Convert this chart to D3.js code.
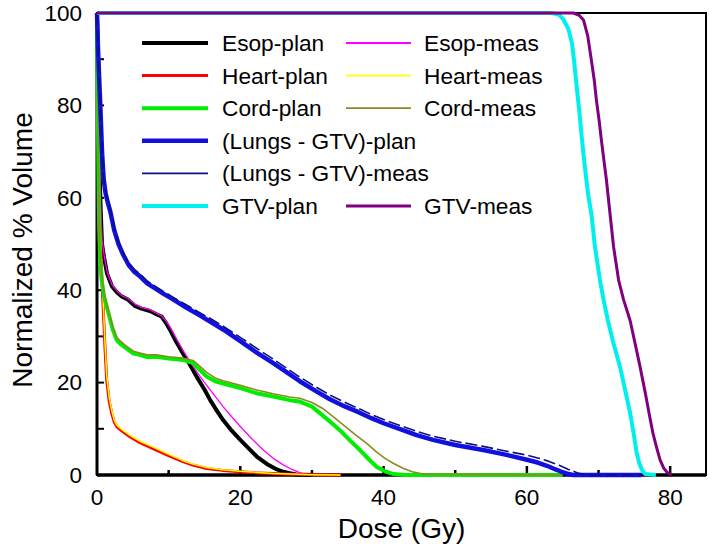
<!DOCTYPE html>
<html>
<head>
<meta charset="utf-8">
<script src="https://cdn.jsdelivr.net/npm/d3@7/dist/d3.min.js"></script>
<style>
  html, body { margin: 0; padding: 0; background: #fff; }
  svg { display: block; font-family: "Liberation Sans", Arial, sans-serif; }
</style>
</head>
<body>
<svg id="chart" width="709" height="552"></svg>
<script>
// ---------------- DATA ----------------
const xTickValues = [0, 20, 40, 60, 80];
const xMinorTicks = [10, 30, 50, 70];
const yTickValues = [0, 20, 40, 60, 80, 100];
const yMinorTicks = [10, 30, 50, 70, 90];

const esopPlanDose = [0, 0.15, 0.3, 0.5, 0.7, 1.0, 1.4, 2.1, 2.8, 3.5, 4.3, 5.3, 6.2, 7.4, 8.3, 9.0, 9.6, 10.2, 11.0, 12.0, 13.0, 13.9, 15.0, 15.8, 16.7, 17.6, 18.8, 20.0, 21.2, 22.3, 23.7, 25.1, 26.0, 26.9, 27.8, 30];
const esopPlanVol  = [100, 85, 70, 58, 50, 47, 43.6, 40.8, 39.5, 38.6, 38.0, 36.6, 36.0, 35.5, 34.8, 34.3, 33.0, 31.4, 29.0, 26.3, 23.8, 21.3, 18.5, 16.2, 14.0, 11.9, 9.6, 7.6, 5.7, 4.0, 2.4, 1.2, 0.7, 0.4, 0.1, 0];

const esopMeasDose = [0, 0.15, 0.3, 0.5, 0.7, 1.0, 1.4, 2.1, 2.8, 3.5, 4.3, 5.3, 6.2, 7.4, 8.3, 9.0, 9.6, 10.2, 11.0, 12.0, 13.0, 14.4, 15.5, 16.5, 17.6, 18.8, 20.0, 21.5, 23.2, 24.6, 26.0, 27.2, 28.3, 29.2, 31];
const esopMeasVol  = [100, 86, 71, 59, 51, 47.5, 44, 41.2, 39.8, 38.8, 38.2, 37.0, 36.3, 35.8, 35.0, 34.5, 33.4, 32.0, 29.7, 27.0, 24.5, 21.3, 19.0, 17.0, 14.8, 12.6, 10.5, 8.0, 5.4, 3.6, 2.2, 1.2, 0.5, 0.1, 0];

const heartPlanDose = [0, 0.1, 0.2, 0.35, 0.55, 0.7, 0.9, 1.1, 1.35, 1.7, 2.05, 2.4, 2.75, 3.5, 4.6, 6.0, 8.3, 10.0, 12.0, 13.5, 15.3, 17.5, 20.0, 22.5, 24.6, 27.0, 30.0, 34.0];
const heartPlanVol  = [100, 88, 72, 58, 48, 42, 35, 28, 20.6, 16, 13.4, 11.5, 10.5, 9.5, 8.3, 7.0, 5.4, 4.2, 2.9, 2.1, 1.4, 1.0, 0.7, 0.45, 0.3, 0.15, 0.05, 0];

const heartMeasDose = [0, 0.1, 0.2, 0.35, 0.55, 0.7, 0.9, 1.1, 1.35, 1.7, 2.05, 2.4, 2.75, 3.5, 4.6, 6.0, 8.3, 10.0, 12.0, 13.5, 15.3, 17.5, 20.0, 22.5, 24.6, 27.0, 30.0, 34.0];
const heartMeasVol  = [100, 89, 73, 59, 49, 43, 36, 29, 21.5, 16.8, 14.0, 11.9, 10.8, 9.8, 8.6, 7.3, 5.7, 4.5, 3.1, 2.3, 1.6, 1.15, 0.8, 0.55, 0.35, 0.2, 0.08, 0];

const cordPlanDose = [0, 0.1, 0.2, 0.3, 0.45, 0.65, 1.0, 1.6, 2.2, 2.75, 3.4, 4.0, 5.1, 6.0, 7.0, 8.3, 10.0, 12.0, 13.4, 14.3, 15.3, 16.5, 17.6, 20.0, 22.3, 24.6, 26.9, 28.3, 30.0, 31.1, 32.5, 33.9, 35.3, 36.7, 38.0, 39.0, 40.2, 41.4, 43, 65];
const cordPlanVol  = [100, 82, 66, 54, 46, 42.2, 38.5, 35, 31.5, 29.2, 28.2, 27.5, 26.3, 26.0, 25.5, 25.6, 25.2, 24.9, 24.2, 22.8, 21.3, 20.3, 19.8, 18.8, 17.7, 17.0, 16.2, 15.9, 14.8, 13.4, 11.6, 9.7, 7.5, 5.4, 3.3, 1.8, 0.8, 0.2, 0, 0];

const cordMeasDose = [0, 0.1, 0.2, 0.3, 0.45, 0.65, 1.0, 1.6, 2.2, 2.75, 3.4, 4.0, 5.1, 6.0, 7.0, 8.3, 10.0, 12.0, 13.4, 14.3, 15.3, 16.5, 17.6, 20.0, 22.3, 24.6, 26.9, 28.3, 30.0, 31.5, 33.0, 34.5, 36.0, 37.6, 39.0, 40.2, 41.4, 42.8, 44.0, 45.5, 65];
const cordMeasVol  = [100, 83, 67, 55, 47, 43, 39.2, 35.6, 32, 29.8, 28.8, 28.0, 26.8, 26.4, 26.0, 26.0, 25.6, 25.3, 24.8, 23.6, 22.2, 21.0, 20.4, 19.4, 18.4, 17.6, 16.9, 16.6, 15.7, 14.4, 12.6, 10.7, 8.8, 6.9, 5.0, 3.6, 2.5, 1.4, 0.7, 0.2, 0];

const lungPlanDose = [0, 0.15, 0.3, 0.46, 0.7, 0.93, 1.2, 1.5, 1.86, 2.4, 3.0, 3.7, 4.4, 5.2, 6.0, 7.0, 8.0, 9.3, 10.6, 12.5, 14.4, 16.0, 17.6, 20.0, 22.3, 24.6, 26.5, 28.3, 30.5, 32.5, 34.5, 36.5, 38.3, 40.0, 42.5, 44.5, 46.9, 50.0, 53.9, 57.0, 60.0, 61.5, 62.8, 64.0, 65.0, 65.8, 66.5, 76.0];
const lungPlanVol  = [100, 92, 86, 80, 70, 64, 61, 59, 57, 53, 50, 47.5, 45.5, 44, 43, 41.5, 40.5, 39.2, 38, 36.2, 34.5, 33, 31.5, 29, 26.5, 24.2, 22.2, 20.3, 18.2, 16.4, 14.9, 13.6, 12.3, 11.2, 9.8, 8.7, 7.6, 6.5, 5.4, 4.4, 3.3, 2.7, 2.0, 1.2, 0.6, 0.2, 0, 0];

const lungMeasDose = [0, 0.15, 0.3, 0.46, 0.7, 0.93, 1.2, 1.5, 1.86, 2.4, 3.0, 3.7, 4.4, 5.2, 6.0, 7.0, 8.0, 9.3, 10.6, 12.5, 14.4, 16.0, 17.6, 20.0, 22.3, 24.6, 26.5, 28.3, 30.5, 32.5, 34.5, 36.5, 38.3, 40.0, 42.5, 44.5, 46.9, 50.0, 53.9, 57.0, 60.0, 61.5, 63.0, 64.5, 65.8, 67.0, 68.3, 76.0];
const lungMeasVol  = [100, 92.5, 86.5, 80.5, 70.5, 64.5, 61.5, 59.5, 57.5, 53.5, 50.5, 48, 46, 44.5, 43.5, 42, 41, 39.7, 38.5, 36.8, 35.1, 33.7, 32.2, 29.8, 27.4, 25.1, 23.1, 21.2, 19.1, 17.3, 15.8, 14.4, 13.1, 12.0, 10.6, 9.5, 8.4, 7.3, 6.2, 5.2, 4.3, 3.7, 3.0, 2.1, 1.2, 0.5, 0, 0];

const gtvPlanDose = [0, 63.5, 64.5, 65.1, 65.8, 66.3, 66.6, 66.9, 67.3, 67.6, 68.0, 68.3, 68.6, 69.0, 69.5, 70.2, 70.7, 71.3, 72.0, 73.0, 73.7, 74.4, 74.9, 75.3, 75.7, 76.1, 76.5, 78.0];
const gtvPlanVol  = [100, 100, 99.6, 98.6, 96.5, 93.4, 89.5, 84.8, 79, 74, 68, 63.9, 60.2, 56.6, 49.4, 42.2, 37.9, 33.5, 29.0, 23.4, 18.5, 13.5, 9.0, 5.0, 2.5, 1.0, 0.2, 0];

const gtvMeasDose = [0, 66.5, 67.3, 67.9, 68.5, 69.0, 69.4, 69.7, 70.1, 70.4, 70.8, 71.1, 71.6, 72.1, 72.8, 73.5, 74.4, 75.1, 75.8, 76.5, 77.1, 77.6, 78.1, 78.6, 79.1, 79.6, 80.2];
const gtvMeasVol  = [100, 100, 99.5, 98.5, 95.0, 89.8, 85.5, 81.2, 76.5, 72.5, 67.5, 63.9, 56.6, 49.4, 42.2, 37.9, 33.5, 28.5, 23.4, 18.0, 13.0, 9.0, 6.0, 3.2, 1.5, 0.5, 0];

const seriesNames = ["Esop-plan", "Esop-meas", "Heart-plan", "Heart-meas", "Cord-plan", "Cord-meas",
                     "(Lungs - GTV)-plan", "(Lungs - GTV)-meas", "GTV-plan", "GTV-meas"];

// ---------------- STYLES ----------------
const styles = {
  "Esop-plan":          { color: "#000000", width: 4,   dash: null },
  "Esop-meas":          { color: "#ff00ff", width: 1.3, dash: null },
  "Heart-plan":         { color: "#ff0000", width: 3,   dash: null },
  "Heart-meas":         { color: "#ffff00", width: 1.5, dash: null },
  "Cord-plan":          { color: "#00ee00", width: 4,   dash: null },
  "Cord-meas":          { color: "#8b8b22", width: 1.6, dash: null },
  "(Lungs - GTV)-plan": { color: "#1010e0", width: 4.5, dash: null },
  "(Lungs - GTV)-meas": { color: "#10107a", width: 1.6, dash: "12,4" },
  "GTV-plan":           { color: "#00f0f0", width: 4,   dash: null },
  "GTV-meas":           { color: "#800080", width: 3,   dash: null }
};

const seriesData = {
  "Esop-plan": [esopPlanDose, esopPlanVol],
  "Esop-meas": [esopMeasDose, esopMeasVol],
  "Heart-plan": [heartPlanDose, heartPlanVol],
  "Heart-meas": [heartMeasDose, heartMeasVol],
  "Cord-plan": [cordPlanDose, cordPlanVol],
  "Cord-meas": [cordMeasDose, cordMeasVol],
  "(Lungs - GTV)-plan": [lungPlanDose, lungPlanVol],
  "(Lungs - GTV)-meas": [lungMeasDose, lungMeasVol],
  "GTV-plan": [gtvPlanDose, gtvPlanVol],
  "GTV-meas": [gtvMeasDose, gtvMeasVol]
};

// ---------------- LAYOUT ----------------
const svg = d3.select("#chart");
const L = 97, R = 706, T = 13, B = 475;
const x = d3.scaleLinear().domain([0, 85]).range([L, R]);
const y = d3.scaleLinear().domain([0, 100]).range([B, T]);

// frame
svg.append("rect").attr("x", L).attr("y", T).attr("width", R - L).attr("height", B - T)
  .attr("fill", "none").attr("stroke", "#000").attr("stroke-width", 2);

// x ticks (inward)
const gx = svg.append("g");
gx.selectAll("line.maj").data(xTickValues.filter(d => d > 0)).join("line")
  .attr("x1", d => x(d)).attr("x2", d => x(d)).attr("y1", B).attr("y2", B - 9)
  .attr("stroke", "#000").attr("stroke-width", 2.5);
gx.selectAll("line.min").data(xMinorTicks).join("line").attr("class", "min")
  .attr("x1", d => x(d)).attr("x2", d => x(d)).attr("y1", B).attr("y2", B - 5)
  .attr("stroke", "#000").attr("stroke-width", 2.5);
gx.selectAll("text").data(xTickValues).join("text")
  .attr("x", d => x(d)).attr("y", B + 30).attr("text-anchor", "middle")
  .attr("font-size", 22.5).text(d => d);

// y ticks (inward)
const gy = svg.append("g");
gy.selectAll("line").data(yTickValues.concat(yMinorTicks).filter(d => d > 0 && d < 100)).join("line")
  .attr("x1", L).attr("x2", L + 7).attr("y1", d => y(d)).attr("y2", d => y(d))
  .attr("stroke", "#000").attr("stroke-width", 2);
gy.selectAll("text").data(yTickValues).join("text")
  .attr("x", L - 15).attr("y", d => y(d)).attr("dy", "0.35em").attr("text-anchor", "end")
  .attr("font-size", 22.5).text(d => d);

// axis lines thicker on left & bottom
svg.append("line").attr("x1", L).attr("x2", R).attr("y1", B).attr("y2", B)
  .attr("stroke", "#000").attr("stroke-width", 3.5);
svg.append("line").attr("x1", L).attr("x2", L).attr("y1", T).attr("y2", B)
  .attr("stroke", "#000").attr("stroke-width", 3);

// axis titles
svg.append("text").attr("x", (L + R) / 2).attr("y", 538).attr("text-anchor", "middle")
  .attr("font-size", 28).text("Dose (Gy)");
svg.append("text").attr("transform", `translate(32, 250) rotate(-90)`)
  .attr("text-anchor", "middle").attr("font-size", 28).text("Normalized % Volume");

// curves
const line = d3.line().x(d => x(d[0])).y(d => y(d[1]));
const gc = svg.append("g");
seriesNames.forEach(name => {
  const [ds, vs] = seriesData[name];
  const pts = ds.map((d, i) => [d, vs[i]]);
  const st = styles[name];
  gc.append("path").datum(pts).attr("d", line)
    .attr("fill", "none").attr("stroke", st.color).attr("stroke-width", st.width)
    .attr("stroke-linejoin", "round")
    .attr("stroke-dasharray", st.dash);
});

// legend
const legendLeft = [
  ["Esop-plan", 0], ["Heart-plan", 1], ["Cord-plan", 2],
  ["(Lungs - GTV)-plan", 3], ["(Lungs - GTV)-meas", 4], ["GTV-plan", 5]
];
const legendRight = [["Esop-meas", 0], ["Heart-meas", 1], ["Cord-meas", 2], ["GTV-meas", 5]];
const rowY = i => 43 + i * 32.6;
const gl = svg.append("g");
function legendItem(name, row, x1, x2, tx) {
  const st = styles[name];
  gl.append("line").attr("x1", x1).attr("x2", x2).attr("y1", rowY(row)).attr("y2", rowY(row))
    .attr("stroke", st.color).attr("stroke-width", Math.max(st.width, 1.8));
  gl.append("text").attr("x", tx).attr("y", rowY(row)).attr("dy", "0.35em")
    .attr("font-size", 22.7).text(name);
}
legendLeft.forEach(([n, r]) => legendItem(n, r, 142, 208, 222));
legendRight.forEach(([n, r]) => legendItem(n, r, 346, 411, 424));
</script>
</body>
</html>
